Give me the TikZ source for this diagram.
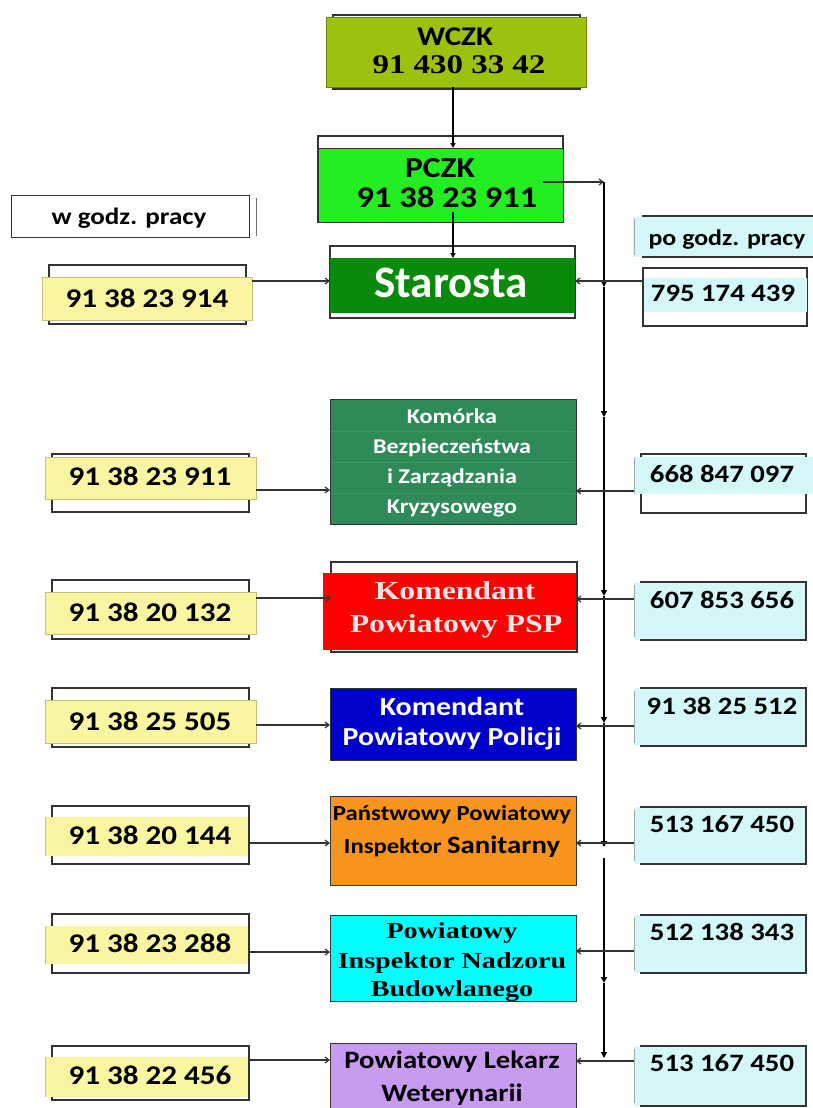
\documentclass[tikz,border=0pt]{standalone}
\usepackage{fontspec}
\usetikzlibrary{arrows.meta}
\newfontfamily\sansS[FakeStretch=1.15]{Carlito}
\newfontfamily\sansN{Carlito}
\newfontfamily\serS[FakeStretch=1.22]{Liberation Serif}
\definecolor{cwczk}{HTML}{9CC10F}
\definecolor{cpczk}{HTML}{22EE22}
\definecolor{cstar}{HTML}{0A8A0A}
\definecolor{ckom}{HTML}{2E8B57}
\definecolor{ckomline}{HTML}{3E9866}
\definecolor{cred}{HTML}{FF0000}
\definecolor{cblue}{HTML}{0000CC}
\definecolor{corange}{HTML}{F7941D}
\definecolor{ccyan}{HTML}{00FFFF}
\definecolor{cpurple}{HTML}{C79BF0}
\definecolor{cyel}{HTML}{FAF5A0}
\definecolor{cyeld}{HTML}{C8C07A}
\definecolor{clcyan}{HTML}{D4F8FA}
\definecolor{cline}{HTML}{333333}
\begin{document}
\begin{tikzpicture}[x=1pt,y=-1pt,
  outl/.style={draw=cline,line width=1.3pt,fill=white},
  cbox/.style={anchor=north west,inner sep=0pt,outer sep=0pt,draw=cline,line width=1pt},
  ybox/.style={anchor=north west,inner sep=0pt,outer sep=0pt,fill=cyel,draw=cyeld,line width=1pt},
  rbox/.style={anchor=north west,inner sep=0pt,outer sep=0pt,fill=clcyan},
  redge/.style={draw=cline,line width=1.3pt},
  ledge/.style={draw=cline!45,line width=1pt},
  txt/.style={anchor=base,inner sep=0pt},
  phone/.style={txt,font=\sansS\bfseries\fontsize{27}{30}\selectfont},
  rphone/.style={txt,font=\sansS\bfseries\fontsize{25}{30}\selectfont},
  harr/.style={draw=cline,line width=1.2pt,-{Straight Barb[length=4pt,width=6pt]}},
  varr/.style={draw=black,line width=1.8pt,-{Triangle[length=6pt,width=6pt]}}
]
\useasboundingbox (0,0) rectangle (813,1108);
\fill[white] (0,0) rectangle (813,1108);

% ---------- centre column ----------
\draw[outl] (333,15) rectangle (580,89);
\node[cbox,fill=cwczk,draw=cwczk!70!black,minimum width=260pt,minimum height=69pt] (C1) at (326,18) {};
\node[txt,font=\sansS\bfseries\fontsize{27}{30}\selectfont] (tW1) at (455,46) {WCZK};
\node[txt,font=\serS\bfseries\fontsize{27}{30}\selectfont] (tW2) at (459,74) {91 430 33 42};

\draw[outl] (318,136) rectangle (563,222);
\node[cbox,fill=cpczk,minimum width=245pt,minimum height=74pt] (C2) at (318,148) {};
\node[txt,font=\sansS\bfseries\fontsize{29}{30}\selectfont] (tP1) at (440,177) {PCZK};
\node[txt,font=\sansS\bfseries\fontsize{30}{30}\selectfont] (tP2) at (447,207) {91 38 23 911};

\draw[outl] (330,246) rectangle (575,318);
\node[cbox,fill=cstar,draw=none,minimum width=245pt,minimum height=55pt] (C3) at (330,258) {};
\node[txt,text=white,font=\sansN\bfseries\fontsize{45}{50}\selectfont] (tS) at (451,297) {Starosta};

\node[cbox,fill=ckom,minimum width=246pt,minimum height=125pt] (C4) at (330,399) {};
\draw[ckomline,line width=0.8pt] (331,431) -- (575,431) (331,462) -- (575,462) (331,493) -- (575,493);
\node[txt,text=white,font=\sansS\bfseries\fontsize{21}{25}\selectfont] (tK1) at (452,423) {Komórka};
\node[txt,text=white,font=\sansS\bfseries\fontsize{21}{25}\selectfont] (tK2) at (452,453) {Bezpieczeństwa};
\node[txt,text=white,font=\sansS\bfseries\fontsize{21}{25}\selectfont] (tK3) at (452,483) {i Zarządzania};
\node[txt,text=white,font=\sansS\bfseries\fontsize{21}{25}\selectfont] (tK4) at (452,513) {Kryzysowego};

\draw[outl] (331,562) rectangle (577,652);
\node[cbox,fill=cred,draw=none,minimum width=253pt,minimum height=77pt] (C5) at (323,573) {};
\node[txt,text=white!90!red,font=\serS\bfseries\fontsize{26}{30}\selectfont] (tF1) at (455,599) {Komendant};
\node[txt,text=white!90!red,font=\serS\bfseries\fontsize{26}{30}\selectfont] (tF2) at (456,632) {Powiatowy PSP};

\node[cbox,fill=cblue,minimum width=246pt,minimum height=72pt] (C6) at (330,688) {};
\node[txt,text=white,font=\sansS\bfseries\fontsize{26}{30}\selectfont] (tO1) at (452,715) {Komendant};
\node[txt,text=white,font=\sansS\bfseries\fontsize{26}{30}\selectfont] (tO2) at (452,745) {Powiatowy Policji};

\node[cbox,fill=corange,minimum width=246pt,minimum height=89pt] (C7) at (330,796) {};
\node[txt,font=\sansS\bfseries\fontsize{21.5}{26}\selectfont] (tA1) at (452,820) {Państwowy Powiatowy};
\node[txt,font=\sansS\bfseries\fontsize{21.5}{26}\selectfont] (tA2) at (452,853) {Inspektor {\fontsize{25}{26}\selectfont Sanitarny}};

\node[cbox,fill=ccyan,minimum width=246pt,minimum height=86pt] (C8) at (330,915) {};
\node[txt,font=\serS\bfseries\fontsize{23}{26}\selectfont] (tB1) at (452,938) {Powiatowy};
\node[txt,font=\serS\bfseries\fontsize{23}{26}\selectfont] (tB2) at (452,968) {Inspektor Nadzoru};
\node[txt,font=\serS\bfseries\fontsize{23}{26}\selectfont] (tB3) at (452,996) {Budowlanego};

\node[cbox,fill=cpurple,minimum width=246pt,minimum height=75pt] (C9) at (330,1043) {};
\node[txt,font=\sansS\bfseries\fontsize{25}{30}\selectfont] (tL1) at (452,1068) {Powiatowy Lekarz};
\node[txt,font=\sansS\bfseries\fontsize{25}{30}\selectfont] (tL2) at (452,1101) {Weterynarii};

% ---------- left column ----------
\node[anchor=north west,inner sep=0pt,draw=cline,line width=1.3pt,fill=white,minimum width=238pt,minimum height=42pt] (LH) at (11,195) {};
\draw[cline!70,line width=1pt] (256,198) -- (256,236);
\node[txt,font=\sansS\bfseries\fontsize{23.5}{26}\selectfont] (tLH) at (129,224) {w godz. pracy};

\draw[outl] (49,265) rectangle (246,324);
\node[ybox,minimum width=210pt,minimum height=43pt] (L1) at (42,277) {};
\node[phone] (tL1n) at (147,307) {91 38 23 914};

\draw[outl] (52,454) rectangle (249,512);
\node[ybox,minimum width=211pt,minimum height=42pt] (L2) at (45,457) {};
\node[phone] (tL2n) at (150,485) {91 38 23 911};

\draw[outl] (52,580) rectangle (249,639);
\node[ybox,minimum width=211pt,minimum height=42pt] (L3) at (45,592) {};
\node[phone] (tL3n) at (150,621) {91 38 20 132};

\draw[outl] (52,688) rectangle (249,747);
\node[ybox,minimum width=211pt,minimum height=43pt] (L4) at (45,700) {};
\node[phone] (tL4n) at (150,730) {91 38 25 505};

\draw[outl] (52,806) rectangle (249,864);
\node[ybox,draw=none,minimum width=203pt,minimum height=39pt] (L5) at (45,817) {};
\draw[cyeld,line width=1pt] (45,817) -- (45,856);
\node[phone] (tL5n) at (150,844) {91 38 20 144};

\draw[outl] (52,914) rectangle (249,973);
\node[ybox,draw=none,minimum width=203pt,minimum height=38pt] (L6) at (45,926) {};
\draw[cyeld,line width=1pt] (45,926) -- (45,964);
\node[phone] (tL6n) at (150,952) {91 38 23 288};

\draw[outl] (52,1046) rectangle (249,1100);
\node[ybox,draw=none,minimum width=203pt,minimum height=40pt] (L7) at (45,1057) {};
\draw[cyeld,line width=1pt] (45,1057) -- (45,1097);
\node[phone] (tL7n) at (150,1084) {91 38 22 456};

% ---------- right column ----------
\node[rbox,minimum width=180pt,minimum height=40pt] (RH) at (633,217) {};
\draw[redge] (642,216) -- (813,216) (642,257) -- (813,257);
\draw[ledge] (634,219) -- (634,255);
\node[txt,font=\sansS\bfseries\fontsize{22.5}{26}\selectfont] (tRH) at (727,245) {po godz. pracy};

\draw[outl] (643,268) rectangle (807,326);
\node[rbox,minimum width=163pt,minimum height=34pt] (R1) at (644,278) {};
\node[rphone] (tR1n) at (723,301) {795 174 439};

\draw[outl] (641,454) rectangle (806,513);
\node[rbox,minimum width=179pt,minimum height=37pt] (R2) at (634,457) {};
\draw[ledge] (634,458) -- (634,493);
\node[rphone] (tR2n) at (722,482) {668 847 097};

\node[rbox,minimum width=172pt,minimum height=58pt] (R3) at (634,582) {};
\node[rbox,minimum width=172pt,minimum height=58pt] (R4) at (634,688) {};
\node[rbox,minimum width=172pt,minimum height=57pt] (R5) at (634,807) {};
\node[rbox,minimum width=172pt,minimum height=58pt] (R6) at (634,915) {};
\node[rbox,minimum width=172pt,minimum height=60pt] (R7) at (634,1046) {};
\foreach \r in {R3,R4,R5,R6,R7}{
  \draw[redge] ([xshift=6pt]\r.north west) -- (\r.north east) -- (\r.south east) -- ([xshift=6pt]\r.south west);
  \draw[ledge] ([yshift=-3pt]\r.north west) -- ([yshift=3pt]\r.south west);
}
\node[rphone] (tR3n) at (722,608) {607 853 656};
\node[rphone] (tR4n) at (722,714) {91 38 25 512};
\node[rphone] (tR5n) at (722,832) {513 167 450};
\node[rphone] (tR6n) at (722,940) {512 138 343};
\node[rphone] (tR7n) at (722,1071) {513 167 450};

% ---------- connectors ----------
\draw[black,line width=1.6pt,-{Triangle[length=5pt,width=5pt]}] (C1.south -| 453,0) -- (C2.north -| 453,0);
\draw[black,line width=1.6pt,-{Triangle[length=5pt,width=5pt]}] (453,212) -- (C3.north -| 453,0);

\coordinate (pz) at (543,182);
\coordinate (b0) at (604,182);
\coordinate (b1) at (604,287);
\coordinate (b2) at (604,417);
\coordinate (b3) at (604,596);
\coordinate (b4) at (604,723);
\coordinate (b5) at (604,847);
\coordinate (b6) at (604,858);
\coordinate (b7) at (604,983);
\coordinate (b8) at (604,1058);
\draw[harr] (pz) -- (b0);
\draw[varr] (b0) -- (b1);
\draw[varr] (b1) -- (b2);
\draw[varr] (b2) -- (b3);
\draw[varr] (b3) -- (b4);
\draw[varr] (b4) -- (b5);
\draw[varr] (b6) -- (b7);
\draw[varr] (b7) -- (b8);

\draw[harr] (L1.east |- 0,281) -- (330,281);
\draw[harr] (L2.east |- 0,490) -- (C4.west |- 0,490);
\draw[harr] (L3.east |- 0,598) -- (331,598);
\draw[harr] (L4.east |- 0,725) -- (C6.west |- 0,725);
\draw[harr] (L5.east |- 0,843) -- (C7.west |- 0,843);
\draw[harr] (L6.east |- 0,952) -- (C8.west |- 0,952);
\draw[harr] (L7.east |- 0,1060) -- (C9.west |- 0,1060);

\draw[harr] (643,281) -- (575,281);
\draw[harr] (R2.west |- 0,491) -- (C4.east |- 0,491);
\draw[harr] (R3.west |- 0,599) -- (C5.east |- 0,599);
\draw[harr] (R4.west |- 0,726) -- (C6.east |- 0,726);
\draw[harr] (R5.west |- 0,843) -- (C7.east |- 0,843);
\draw[harr] (R6.west |- 0,951) -- (C8.east |- 0,951);
\draw[harr] (R7.west |- 0,1061) -- (C9.east |- 0,1061);
\end{tikzpicture}
\end{document}
